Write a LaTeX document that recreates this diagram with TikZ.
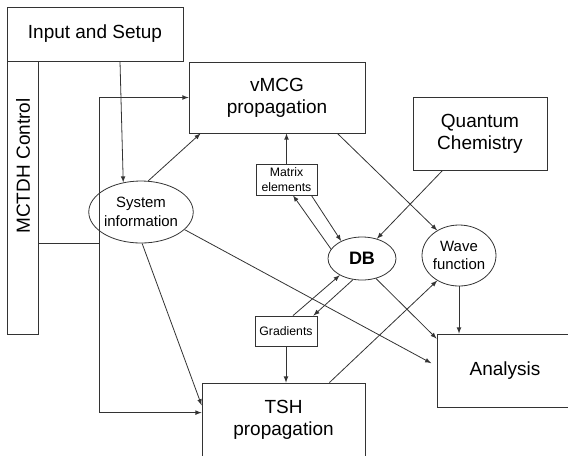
\documentclass[tikz,border=0pt]{standalone}
\usepackage{fontspec}
\setmainfont{Liberation Sans}
\usetikzlibrary{shapes.geometric}

\begin{document}
\begin{tikzpicture}[x=0.75pt, y=-0.75pt, line width=0.6pt,
    box/.style={rectangle, draw=black!80, align=center, inner sep=0pt, font=\fontsize{14.25}{16.5}\selectfont},
    blob/.style={ellipse, draw=black!80, align=center, inner sep=0pt, font=\fontsize{11.2}{14}\selectfont},
    tag/.style={rectangle, draw=black!80, align=center, inner sep=0pt, font=\fontsize{9.2}{11.25}\selectfont},
    link/.style={draw=black!80, -latex}]
        \useasboundingbox (0,0) rectangle (568,455);

        \node[box, minimum width=132pt, minimum height=40.5pt] at (95,34) (IS) {Input and Setup};
        \node[box, minimum width=23.25pt, minimum height=204.75pt] at (22.5,197.5) (MC) {};
        \node[rotate=90, font=\fontsize{14.25}{16.5}\selectfont] at (23,166) (MCtext) {MCTDH Control};
        \node[box, minimum width=132pt, minimum height=53.25pt] at (277,97.5) (VP) {vMCG\\propagation};
        \node[box, minimum width=100.5pt, minimum height=54.75pt] at (480,133.5) (QC) {Quantum\\Chemistry};
        \node[box, minimum width=122.25pt, minimum height=55.5pt] at (283.5,420) (TP) {TSH\\propagation};
        \node[box, minimum width=105pt, minimum height=54.75pt] at (507,370.5) (AN) {\hspace*{-3pt}Analysis};

        \node[tag, minimum width=45.75pt, minimum height=23.25pt] at (286.5,179.5) (ME) {Matrix\\elements};
        \node[tag, minimum width=46.5pt, minimum height=22.5pt] at (286,331) (GR) {Gradients};

        \node[blob, minimum width=63pt, minimum height=46.5pt] at (141,212) (SI) {System\\information};
        \node[blob, minimum width=51pt, minimum height=32.25pt, font=\fontsize{13.5}{16}\selectfont\bfseries] at (362,258.5) (DB) {DB};
        \node[blob, minimum width=49.5pt, minimum height=45.75pt] at (459,255.5) (WF) {Wave\\function};

        % control bus
        \coordinate (BUS) at (99,243);
        \draw[draw=black!80] (MC.east |- BUS) -- (BUS);
        \draw[link] (BUS) |- (VP.west);
        \draw[link] (BUS) |- ([yshift=-22.5pt]TP.north west);

        \draw[link] ([xshift=18.75pt]IS.south) -- (SI.121);
        \draw[link] (SI.77) -- ([xshift=9pt]VP.south west);
        \draw[link] (SI.272) -- ([yshift=-17pt]TP.north west);
        \draw[link] (SI.338) -- ([yshift=5.5pt, xshift=-4pt]AN.west);

        \draw[link] ([xshift=-21pt]VP.south east) -- (WF.131);
        \draw[link] ([xshift=22.5pt]QC.south west) -- (DB.53);

        \draw[link] (ME.north) -- (ME.north |- VP.south);
        \draw[link] (DB.163) -- ([xshift=4.9pt]ME.south);
        \draw[link] ([xshift=-4.5pt]ME.south east) -- (DB.140);

        \draw[link] ([xshift=5.25pt]GR.north) -- (DB.217);
        \draw[link] (DB.247) -- ([xshift=-3pt]GR.north east);
        \draw[link] (GR.south) -- (GR.south |- TP.north);

        \draw[link] (DB.305) -- ([yshift=-3.75pt]AN.north west);
        \draw[link] ([xshift=-27pt]TP.north east) -- (WF.229);
        \draw[link] (WF.south) -- (WF.south |- AN.north);

    \end{tikzpicture}
\end{document}
